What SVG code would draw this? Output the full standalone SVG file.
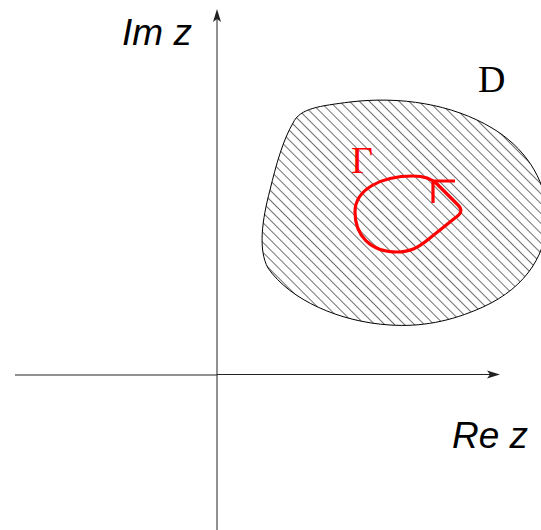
<svg xmlns="http://www.w3.org/2000/svg" width="541" height="530" viewBox="0 0 541 530">
<style>
.axis{stroke:#222;stroke-width:1;fill:none}
.lbl{font-family:"Liberation Sans",Arial,sans-serif;font-style:italic;font-size:37px;fill:#000}
.serif{font-family:"Liberation Serif","Times New Roman",serif;font-size:38px}
</style>
<defs>
<pattern id="hatch" patternUnits="userSpaceOnUse" width="7" height="20" patternTransform="rotate(-45)">
<line x1="0.5" y1="0" x2="0.5" y2="20" stroke="#333" stroke-width="0.7"/>
</pattern>
</defs>
<rect width="541" height="530" fill="#fff"/>
<g id="axes">
<line class="axis" x1="217" y1="12" x2="217" y2="530" stroke="#444"/>
<line class="axis" x1="15" y1="375" x2="217" y2="375"/>
<line class="axis" x1="217" y1="374.5" x2="496" y2="374.5"/>
<path d="M217,9 L221,22 L217,19 L213,22 Z" fill="#222"/>
<path d="M500,374.5 L487,370.5 L490,374.5 L487,378.5 Z" fill="#222"/>
</g>
<g id="region-D">
<path d="M293,123 C300,108 320,106 350,102 C400,96 452,104 492,128 C524,147 545,178 547,212 C549,252 527,287 483,307 C450,322 420,327 390,325 C340,322 290,300 268,268 C258,250 262,220 270,190 C276,165 283,140 293,123 Z" fill="url(#hatch)" stroke="#000" stroke-width="1"/>
</g>
<g id="contour-gamma" fill="none" stroke="#f00" stroke-width="3.2" stroke-linejoin="round" stroke-linecap="round">
<path d="M413,176 C425,176 432,179 437,184 L458,205 C463,210 461,214 455,218 L430,238 C418,248 410,252 397,252 C370,252 355,235 355,212 C355,190 380,176 413,176 Z"/>
<polyline points="455,181 433,181 433,203" stroke-linecap="butt" stroke-linejoin="miter"/>
</g>
<g id="labels">
<text class="lbl" x="122" y="45">Im z</text>
<text class="lbl" x="452" y="448">Re z</text>
<text class="serif" x="478" y="92" fill="#000">D</text>
<text class="serif" x="351" y="173" fill="#f00">Γ</text>
</g>
</svg>
